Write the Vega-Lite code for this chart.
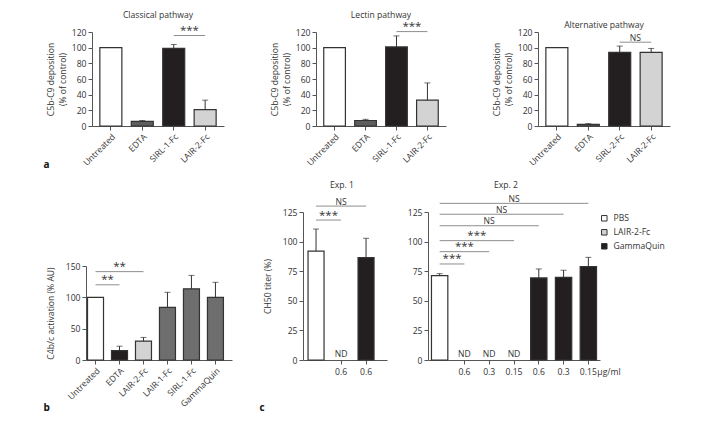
{
  "$schema": "https://vega.github.io/schema/vega-lite/v6.json",
  "background": "white",
  "padding": {"left": 43, "top": 10, "right": 4, "bottom": 4},
  "config": {
    "font": "Open Sans",
    "view": {"stroke": null},
    "axis": {"labelFont": "Open Sans", "labelFontSize": 8.6, "labelColor": "#333333", "titleFont": "Open Sans", "titleFontSize": 8.6, "titleFontWeight": "normal", "titleColor": "#333333", "domainColor": "#555555", "tickColor": "#555555", "tickSize": 4, "labelPadding": 2, "grid": false, "domainWidth": 1, "tickWidth": 1, "titleLineHeight": 11.5},
    "axisY": {"labelOverlap": false},
    "title": {"font": "Open Sans", "fontSize": 8.6, "fontWeight": "normal", "color": "#333333", "offset": 7},
    "legend": {"labelFont": "Open Sans"}
  },
  "datasets": {
    "a1": [
      {"t": "Untreated", "v": 100},
      {"t": "EDTA", "v": 6, "e": 7},
      {"t": "SIRL-1-Fc", "v": 99, "e": 104},
      {"t": "LAIR-2-Fc", "v": 21, "e": 33}
    ],
    "a1s": [{"from": "SIRL-1-Fc", "to": "LAIR-2-Fc", "lo": "SIRL-1-Fc", "hi": "LAIR-2-Fc", "y": 115.5, "label": "***"}],
    "a2": [
      {"t": "Untreated", "v": 100},
      {"t": "EDTA", "v": 7, "e": 8.5},
      {"t": "SIRL-1-Fc", "v": 101, "e": 115},
      {"t": "LAIR-2-Fc", "v": 33, "e": 55}
    ],
    "a2s": [{"from": "SIRL-1-Fc", "to": "LAIR-2-Fc", "lo": "SIRL-1-Fc", "hi": "LAIR-2-Fc", "y": 120.5, "label": "***"}],
    "a3": [
      {"t": "Untreated", "v": 100},
      {"t": "EDTA", "v": 2, "e": 3},
      {"t": "SIRL-2-Fc", "v": 94, "e": 102},
      {"t": "LAIR-2-Fc", "v": 94, "e": 99}
    ],
    "a3s": [{"from": "SIRL-2-Fc", "to": "LAIR-2-Fc", "lo": "SIRL-2-Fc", "hi": "LAIR-2-Fc", "y": 107, "label": "NS"}],
    "b": [
      {"t": "Untreated", "v": 100},
      {"t": "EDTA", "v": 15, "e": 22},
      {"t": "LAIR-2-Fc", "v": 30, "e": 36},
      {"t": "LAIR-1-Fc", "v": 84, "e": 108},
      {"t": "SIRL-1-Fc", "v": 113.5, "e": 135},
      {"t": "GammaQuin", "v": 100, "e": 124}
    ],
    "bs": [
      {"from": "Untreated", "to": "EDTA", "lo": "Untreated", "hi": "EDTA", "y": 120, "label": "**"},
      {"from": "Untreated", "to": "LAIR-2-Fc", "lo": "EDTA", "hi": "EDTA", "y": 141, "label": "**"}
    ],
    "c1": [
      {"k": "PBS|", "g": "PBS", "v": 92, "e": 110.6},
      {"k": "LAIR-2-Fc|0.6", "g": "LAIR-2-Fc", "v": null, "note": "ND"},
      {"k": "GammaQuin|0.6", "g": "GammaQuin", "v": 86.4, "e": 102.8}
    ],
    "c1s": [
      {"from": "PBS|", "to": "GammaQuin|0.6", "lo": "LAIR-2-Fc|0.6", "hi": "LAIR-2-Fc|0.6", "y": 130, "label": "NS"},
      {"from": "PBS|", "to": "LAIR-2-Fc|0.6", "lo": "PBS|", "hi": "LAIR-2-Fc|0.6", "y": 118.2, "label": "***"}
    ],
    "c2": [
      {"k": "PBS|", "g": "PBS", "v": 71.2, "e": 72.9},
      {"k": "LAIR-2-Fc|0.6", "g": "LAIR-2-Fc", "v": null, "note": "ND"},
      {"k": "LAIR-2-Fc|0.3", "g": "LAIR-2-Fc", "v": null, "note": "ND"},
      {"k": "LAIR-2-Fc|0.15", "g": "LAIR-2-Fc", "v": null, "note": "ND"},
      {"k": "GammaQuin|0.6", "g": "GammaQuin", "v": 69.3, "e": 76.9},
      {"k": "GammaQuin|0.3", "g": "GammaQuin", "v": 69.8, "e": 75.8},
      {"k": "GammaQuin|0.15", "g": "GammaQuin", "v": 78.8, "e": 86.7}
    ],
    "c2s": [
      {"from": "PBS|", "to": "GammaQuin|0.15", "lo": "LAIR-2-Fc|0.15", "hi": "LAIR-2-Fc|0.15", "y": 132.3, "label": "NS"},
      {"from": "PBS|", "to": "GammaQuin|0.3", "lo": "LAIR-2-Fc|0.3", "hi": "LAIR-2-Fc|0.15", "y": 123.1, "label": "NS"},
      {"from": "PBS|", "to": "GammaQuin|0.6", "lo": "LAIR-2-Fc|0.3", "hi": "LAIR-2-Fc|0.3", "y": 113.4, "label": "NS"},
      {"from": "PBS|", "to": "LAIR-2-Fc|0.15", "lo": "LAIR-2-Fc|0.6", "hi": "LAIR-2-Fc|0.3", "y": 100.8, "label": "***"},
      {"from": "PBS|", "to": "LAIR-2-Fc|0.3", "lo": "LAIR-2-Fc|0.6", "hi": "LAIR-2-Fc|0.6", "y": 91.5, "label": "***"},
      {"from": "PBS|", "to": "LAIR-2-Fc|0.6", "lo": "PBS|", "hi": "LAIR-2-Fc|0.6", "y": 81.1, "label": "***"}
    ]
  },
  "columns": 3,
  "bounds": "flush",
  "align": "none",
  "spacing": {"row": 86, "column": 92},
  "resolve": {"scale": {"fill": "independent"}},
  "concat": [
    {
      "width": 132, "height": 94,
      "title": {"text": "Classical pathway", "offset": 5},
      "layer": [
        {"data": {"name": "a1"}, "mark": {"type": "bar", "stroke": "#333333", "strokeWidth": 1.2},
         "encoding": {
           "x": {"field": "t", "type": "nominal", "sort": null, "scale": {"domain": ["Untreated", "EDTA", "SIRL-1-Fc", "LAIR-2-Fc"], "paddingInner": 0.3, "paddingOuter": 0.25},
                 "axis": {"title": "a", "labelAngle": -45, "titleX": -49, "titleY": 41, "titleAlign": "left", "titleAnchor": "start", "titleBaseline": "alphabetic", "titleAngle": 0, "titleFontWeight": "bold", "titleFontSize": 10, "titleColor": "#111111"}},
           "y": {"field": "v", "type": "quantitative", "scale": {"domain": [0, 120], "nice": false}, "axis": {"title": ["C5b-C9 deposition", "(% of control)"], "values": [0, 20, 40, 60, 80, 100, 120], "tickCount": 20, "titlePadding": 4}},
           "fill": {"field": "t", "type": "nominal", "scale": {"domain": ["Untreated", "EDTA", "SIRL-1-Fc", "LAIR-2-Fc"], "range": ["#ffffff", "#5e5e5e", "#231f20", "#d3d3d3"]}, "legend": null}
         }},
        {"data": {"name": "a1"}, "transform": [{"filter": "isValid(datum.e)"}], "mark": {"type": "rule", "color": "#333333", "strokeWidth": 1},
         "encoding": {"x": {"field": "t", "type": "nominal"}, "y": {"field": "v", "type": "quantitative"}, "y2": {"field": "e"}}},
        {"data": {"name": "a1"}, "transform": [{"filter": "isValid(datum.e)"}], "mark": {"type": "tick", "color": "#333333", "size": 6, "thickness": 1, "orient": "horizontal"},
         "encoding": {"x": {"field": "t", "type": "nominal"}, "y": {"field": "e", "type": "quantitative"}}},
        {"data": {"name": "a1s"}, "mark": {"type": "rule", "color": "#8e8e8e", "strokeWidth": 1},
         "encoding": {"x": {"field": "from", "type": "nominal", "bandPosition": 0.5}, "x2": {"field": "to", "bandPosition": 0.5}, "y": {"field": "y", "type": "quantitative"}}},
        {"data": {"name": "a1s"}, "transform": [{"filter": "datum.lo !== datum.hi"}], "mark": {"type": "text", "baseline": "alphabetic", "dy": -1.5, "color": "#333333"},
         "encoding": {"x": {"field": "lo", "type": "nominal", "bandPosition": 1.214}, "y": {"field": "y", "type": "quantitative"}, "text": {"field": "label"},
           "size": {"condition": {"test": "datum.label === 'NS'", "value": 8.6}, "value": 11.5}}}
      ]
    },
    {
      "width": 130, "height": 94,
      "title": {"text": "Lectin pathway", "offset": 2},
      "layer": [
        {"data": {"name": "a2"}, "mark": {"type": "bar", "stroke": "#333333", "strokeWidth": 1.2},
         "encoding": {
           "x": {"field": "t", "type": "nominal", "sort": null, "scale": {"domain": ["Untreated", "EDTA", "SIRL-1-Fc", "LAIR-2-Fc"], "paddingInner": 0.3, "paddingOuter": 0.25},
                 "axis": {"title": null, "labelAngle": -45}},
           "y": {"field": "v", "type": "quantitative", "scale": {"domain": [0, 120], "nice": false}, "axis": {"title": ["C5b-C9 deposition", "(% of control)"], "values": [0, 20, 40, 60, 80, 100, 120], "tickCount": 20, "titlePadding": 4}},
           "fill": {"field": "t", "type": "nominal", "scale": {"domain": ["Untreated", "EDTA", "SIRL-1-Fc", "LAIR-2-Fc"], "range": ["#ffffff", "#5e5e5e", "#231f20", "#d3d3d3"]}, "legend": null}
         }},
        {"data": {"name": "a2"}, "transform": [{"filter": "isValid(datum.e)"}], "mark": {"type": "rule", "color": "#333333", "strokeWidth": 1},
         "encoding": {"x": {"field": "t", "type": "nominal"}, "y": {"field": "v", "type": "quantitative"}, "y2": {"field": "e"}}},
        {"data": {"name": "a2"}, "transform": [{"filter": "isValid(datum.e)"}], "mark": {"type": "tick", "color": "#333333", "size": 6, "thickness": 1, "orient": "horizontal"},
         "encoding": {"x": {"field": "t", "type": "nominal"}, "y": {"field": "e", "type": "quantitative"}}},
        {"data": {"name": "a2s"}, "mark": {"type": "rule", "color": "#8e8e8e", "strokeWidth": 1},
         "encoding": {"x": {"field": "from", "type": "nominal", "bandPosition": 0.5}, "x2": {"field": "to", "bandPosition": 0.5}, "y": {"field": "y", "type": "quantitative"}}},
        {"data": {"name": "a2s"}, "transform": [{"filter": "datum.lo !== datum.hi"}], "mark": {"type": "text", "baseline": "alphabetic", "dy": -1.5, "color": "#333333"},
         "encoding": {"x": {"field": "lo", "type": "nominal", "bandPosition": 1.214}, "y": {"field": "y", "type": "quantitative"}, "text": {"field": "label"},
           "size": {"condition": {"test": "datum.label === 'NS'", "value": 8.6}, "value": 11.5}}}
      ]
    },
    {
      "width": 132, "height": 94,
      "title": {"text": "Alternative pathway", "offset": -2},
      "layer": [
        {"data": {"name": "a3"}, "mark": {"type": "bar", "stroke": "#333333", "strokeWidth": 1.2},
         "encoding": {
           "x": {"field": "t", "type": "nominal", "sort": null, "scale": {"domain": ["Untreated", "EDTA", "SIRL-2-Fc", "LAIR-2-Fc"], "paddingInner": 0.3, "paddingOuter": 0.25},
                 "axis": {"title": null, "labelAngle": -45}},
           "y": {"field": "v", "type": "quantitative", "scale": {"domain": [0, 120], "nice": false}, "axis": {"title": ["C5b-C9 deposition", "(% of control)"], "values": [0, 20, 40, 60, 80, 100, 120], "tickCount": 20, "titlePadding": 4}},
           "fill": {"field": "t", "type": "nominal", "scale": {"domain": ["Untreated", "EDTA", "SIRL-2-Fc", "LAIR-2-Fc"], "range": ["#ffffff", "#5e5e5e", "#231f20", "#d3d3d3"]}, "legend": null}
         }},
        {"data": {"name": "a3"}, "transform": [{"filter": "isValid(datum.e)"}], "mark": {"type": "rule", "color": "#333333", "strokeWidth": 1},
         "encoding": {"x": {"field": "t", "type": "nominal"}, "y": {"field": "v", "type": "quantitative"}, "y2": {"field": "e"}}},
        {"data": {"name": "a3"}, "transform": [{"filter": "isValid(datum.e)"}], "mark": {"type": "tick", "color": "#333333", "size": 6, "thickness": 1, "orient": "horizontal"},
         "encoding": {"x": {"field": "t", "type": "nominal"}, "y": {"field": "e", "type": "quantitative"}}},
        {"data": {"name": "a3s"}, "mark": {"type": "rule", "color": "#8e8e8e", "strokeWidth": 1},
         "encoding": {"x": {"field": "from", "type": "nominal", "bandPosition": 0.5}, "x2": {"field": "to", "bandPosition": 0.5}, "y": {"field": "y", "type": "quantitative"}}},
        {"data": {"name": "a3s"}, "transform": [{"filter": "datum.lo !== datum.hi"}], "mark": {"type": "text", "baseline": "alphabetic", "dy": -1.5, "color": "#333333"},
         "encoding": {"x": {"field": "lo", "type": "nominal", "bandPosition": 1.214}, "y": {"field": "y", "type": "quantitative"}, "text": {"field": "label"},
           "size": {"condition": {"test": "datum.label === 'NS'", "value": 8.6}, "value": 11.5}}}
      ]
    },
    {
      "width": 119, "height": 148,
      "layer": [
        {"data": {"name": "b"}, "mark": {"type": "bar", "stroke": "#333333", "strokeWidth": 1.2},
         "encoding": {
           "x": {"field": "t", "type": "nominal", "sort": null, "scale": {"domain": ["Untreated", "EDTA", "LAIR-2-Fc", "LAIR-1-Fc", "SIRL-1-Fc", "GammaQuin"], "range": [-6, 140], "paddingInner": 0.333, "paddingOuter": 0.21, "align": 0.15},
                 "axis": {"title": "b", "labelAngle": -45, "titleX": -49, "titleY": 50, "titleAlign": "left", "titleAnchor": "start", "titleBaseline": "alphabetic", "titleAngle": 0, "titleFontWeight": "bold", "titleFontSize": 10, "titleColor": "#111111"}},
           "y": {"field": "v", "type": "quantitative", "scale": {"domain": [0, 150], "nice": false, "range": [148, 54]}, "axis": {"title": "C4b/c activation (% AU)", "values": [0, 50, 100, 150], "tickCount": 20, "titlePadding": 10, "offset": 6}},
           "fill": {"field": "t", "type": "nominal", "scale": {"domain": ["Untreated", "EDTA", "LAIR-2-Fc", "LAIR-1-Fc", "SIRL-1-Fc", "GammaQuin"], "range": ["#ffffff", "#231f20", "#d3d3d3", "#6e6e6e", "#6e6e6e", "#6e6e6e"]}, "legend": null}
         }},
        {"data": {"name": "b"}, "transform": [{"filter": "isValid(datum.e)"}], "mark": {"type": "rule", "color": "#333333", "strokeWidth": 1},
         "encoding": {"x": {"field": "t", "type": "nominal"}, "y": {"field": "v", "type": "quantitative"}, "y2": {"field": "e"}}},
        {"data": {"name": "b"}, "transform": [{"filter": "isValid(datum.e)"}], "mark": {"type": "tick", "color": "#333333", "size": 6, "thickness": 1, "orient": "horizontal"},
         "encoding": {"x": {"field": "t", "type": "nominal"}, "y": {"field": "e", "type": "quantitative"}}},
        {"data": {"name": "bs"}, "mark": {"type": "rule", "color": "#8e8e8e", "strokeWidth": 1},
         "encoding": {"x": {"field": "from", "type": "nominal", "bandPosition": 0.5}, "x2": {"field": "to", "bandPosition": 0.5}, "y": {"field": "y", "type": "quantitative"}}},
        {"data": {"name": "bs"}, "transform": [{"filter": "datum.lo === datum.hi"}], "mark": {"type": "text", "baseline": "alphabetic", "dy": -1.5, "color": "#333333"},
         "encoding": {"x": {"field": "lo", "type": "nominal", "bandPosition": 0.5}, "y": {"field": "y", "type": "quantitative"}, "text": {"field": "label"},
           "size": {"condition": {"test": "datum.label === 'NS'", "value": 8.6}, "value": 11.5}}},
        {"data": {"name": "bs"}, "transform": [{"filter": "datum.lo !== datum.hi"}], "mark": {"type": "text", "baseline": "alphabetic", "dy": -1.5, "color": "#333333"},
         "encoding": {"x": {"field": "lo", "type": "nominal", "bandPosition": 1.25}, "y": {"field": "y", "type": "quantitative"}, "text": {"field": "label"},
           "size": {"condition": {"test": "datum.label === 'NS'", "value": 8.6}, "value": 11.5}}}
      ]
    },
    {
      "bounds": "flush",
      "spacing": 41,
      "resolve": {"scale": {"fill": "independent"}},
      "hconcat": [
        {
          "width": 84, "height": 148,
          "title": {"text": "Exp. 1", "offset": 8, "dx": -16},
          "layer": [
            {"data": {"name": "c1"}, "mark": {"type": "bar", "stroke": "#333333", "strokeWidth": 1.2},
             "encoding": {
               "x": {"field": "k", "type": "nominal", "sort": null, "scale": {"domain": ["PBS|", "LAIR-2-Fc|0.6", "GammaQuin|0.6"], "range": [-13, 71], "paddingInner": 0.36, "paddingOuter": 0.36, "align": 0.28},
                     "axis": {"title": "c", "labelAngle": 0, "values": ["LAIR-2-Fc|0.6", "GammaQuin|0.6"], "labelExpr": "split(datum.value, '|')[1]", "labelPadding": 3, "titleX": -57, "titleY": 50, "titleAlign": "left", "titleAnchor": "start", "titleBaseline": "alphabetic", "titleAngle": 0, "titleFontWeight": "bold", "titleFontSize": 10, "titleColor": "#111111"}},
               "y": {"field": "v", "type": "quantitative", "scale": {"domain": [0, 125], "nice": false}, "axis": {"title": "CH50 titer (%)", "values": [0, 25, 50, 75, 100, 125], "tickCount": 20, "titlePadding": 10, "offset": 13}},
               "fill": {"field": "g", "type": "nominal", "scale": {"domain": ["PBS", "LAIR-2-Fc", "GammaQuin"], "range": ["#ffffff", "#d3d3d3", "#231f20"]}, "legend": null}
             }},
            {"data": {"name": "c1"}, "transform": [{"filter": "isValid(datum.e)"}], "mark": {"type": "rule", "color": "#333333", "strokeWidth": 1},
             "encoding": {"x": {"field": "k", "type": "nominal"}, "y": {"field": "v", "type": "quantitative"}, "y2": {"field": "e"}}},
            {"data": {"name": "c1"}, "transform": [{"filter": "isValid(datum.e)"}], "mark": {"type": "tick", "color": "#333333", "size": 6, "thickness": 1, "orient": "horizontal"},
             "encoding": {"x": {"field": "k", "type": "nominal"}, "y": {"field": "e", "type": "quantitative"}}},
            {"data": {"name": "c1"}, "transform": [{"filter": "isValid(datum.note)"}], "mark": {"type": "text", "baseline": "alphabetic", "dy": -3, "fontSize": 8.6, "color": "#333333"},
             "encoding": {"x": {"field": "k", "type": "nominal"}, "y": {"datum": 0}, "text": {"field": "note"}}},
            {"data": {"name": "c1s"}, "mark": {"type": "rule", "color": "#8e8e8e", "strokeWidth": 1},
             "encoding": {"x": {"field": "from", "type": "nominal", "bandPosition": 0.5}, "x2": {"field": "to", "bandPosition": 0.5}, "y": {"field": "y", "type": "quantitative"}}},
            {"data": {"name": "c1s"}, "transform": [{"filter": "datum.lo === datum.hi"}], "mark": {"type": "text", "baseline": "alphabetic", "dy": -1.5, "color": "#333333"},
             "encoding": {"x": {"field": "lo", "type": "nominal", "bandPosition": 0.5}, "y": {"field": "y", "type": "quantitative"}, "text": {"field": "label"},
               "size": {"condition": {"test": "datum.label === 'NS'", "value": 8.6}, "value": 11.5}}},
            {"data": {"name": "c1s"}, "transform": [{"filter": "datum.lo !== datum.hi"}], "mark": {"type": "text", "baseline": "alphabetic", "dy": -1.5, "color": "#333333"},
             "encoding": {"x": {"field": "lo", "type": "nominal", "bandPosition": 1.281}, "y": {"field": "y", "type": "quantitative"}, "text": {"field": "label"},
               "size": {"condition": {"test": "datum.label === 'NS'", "value": 8.6}, "value": 11.5}}}
          ]
        },
        {
          "width": 172, "height": 148,
          "title": {"text": "Exp. 2", "offset": 5, "dx": -21},
          "layer": [
            {"data": {"name": "c2"}, "mark": {"type": "bar", "stroke": "#333333", "strokeWidth": 1.2},
             "encoding": {
               "x": {"field": "k", "type": "nominal", "sort": null, "scale": {"domain": ["PBS|", "LAIR-2-Fc|0.6", "LAIR-2-Fc|0.3", "LAIR-2-Fc|0.15", "GammaQuin|0.6", "GammaQuin|0.3", "GammaQuin|0.15"], "range": [-13, 159], "paddingInner": 0.34, "paddingOuter": 0.14, "align": 0.5},
                     "axis": {"title": null, "labelAngle": 0, "values": ["LAIR-2-Fc|0.6", "LAIR-2-Fc|0.3", "LAIR-2-Fc|0.15", "GammaQuin|0.6", "GammaQuin|0.3", "GammaQuin|0.15"], "labelExpr": "split(datum.value, '|')[1]", "labelPadding": 3}},
               "y": {"field": "v", "type": "quantitative", "scale": {"domain": [0, 125], "nice": false}, "axis": {"title": null, "values": [0, 25, 50, 75, 100, 125], "tickCount": 20, "offset": 13}},
               "fill": {"field": "g", "type": "nominal", "scale": {"domain": ["PBS", "LAIR-2-Fc", "GammaQuin"], "range": ["#ffffff", "#d3d3d3", "#231f20"]},
                        "legend": {"orient": "none", "legendX": 159, "legendY": 2, "title": null, "symbolType": "square", "symbolSize": 30, "symbolStrokeColor": "#333333", "symbolStrokeWidth": 1, "labelFontSize": 8.6, "labelColor": "#333333", "rowPadding": 3, "labelOffset": 5, "padding": 0}}
             }},
            {"data": {"name": "c2"}, "transform": [{"filter": "isValid(datum.e)"}], "mark": {"type": "rule", "color": "#333333", "strokeWidth": 1},
             "encoding": {"x": {"field": "k", "type": "nominal"}, "y": {"field": "v", "type": "quantitative"}, "y2": {"field": "e"}}},
            {"data": {"name": "c2"}, "transform": [{"filter": "isValid(datum.e)"}], "mark": {"type": "tick", "color": "#333333", "size": 6, "thickness": 1, "orient": "horizontal"},
             "encoding": {"x": {"field": "k", "type": "nominal"}, "y": {"field": "e", "type": "quantitative"}}},
            {"data": {"name": "c2"}, "transform": [{"filter": "isValid(datum.note)"}], "mark": {"type": "text", "baseline": "alphabetic", "dy": -3, "fontSize": 8.6, "color": "#333333"},
             "encoding": {"x": {"field": "k", "type": "nominal"}, "y": {"datum": 0}, "text": {"field": "note"}}},
            {"data": {"values": [{"unit": "µg/ml"}]}, "mark": {"type": "text", "align": "left", "baseline": "alphabetic", "dx": 9, "dy": 14.5, "fontSize": 8.6, "color": "#333333"},
             "encoding": {"x": {"datum": "GammaQuin|0.15"}, "y": {"datum": 0}, "text": {"field": "unit"}}},
            {"data": {"name": "c2s"}, "mark": {"type": "rule", "color": "#8e8e8e", "strokeWidth": 1},
             "encoding": {"x": {"field": "from", "type": "nominal", "bandPosition": 0.5}, "x2": {"field": "to", "bandPosition": 0.5}, "y": {"field": "y", "type": "quantitative"}}},
            {"data": {"name": "c2s"}, "transform": [{"filter": "datum.lo === datum.hi"}], "mark": {"type": "text", "baseline": "alphabetic", "dy": -1.5, "color": "#333333"},
             "encoding": {"x": {"field": "lo", "type": "nominal", "bandPosition": 0.5}, "y": {"field": "y", "type": "quantitative"}, "text": {"field": "label"},
               "size": {"condition": {"test": "datum.label === 'NS'", "value": 8.6}, "value": 11.5}}},
            {"data": {"name": "c2s"}, "transform": [{"filter": "datum.lo !== datum.hi"}], "mark": {"type": "text", "baseline": "alphabetic", "dy": -1.5, "color": "#333333"},
             "encoding": {"x": {"field": "lo", "type": "nominal", "bandPosition": 1.258}, "y": {"field": "y", "type": "quantitative"}, "text": {"field": "label"},
               "size": {"condition": {"test": "datum.label === 'NS'", "value": 8.6}, "value": 11.5}}}
          ]
        }
      ]
    }
  ]
}
